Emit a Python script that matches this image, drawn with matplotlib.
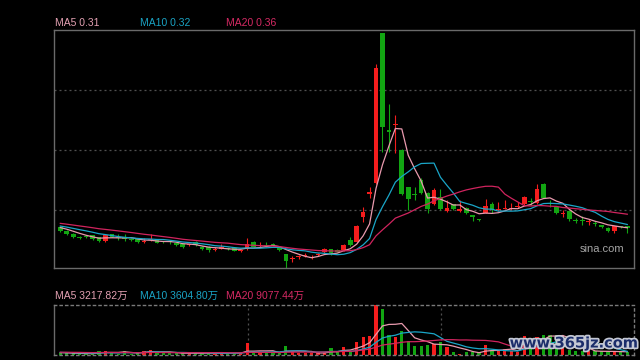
import matplotlib
matplotlib.use('Agg')
import matplotlib.pyplot as plt
import matplotlib.patheffects as pe
import numpy as np

# ---------------- data ----------------
opens = [
    0.311, 0.297, 0.285, 0.272, 0.274, 0.279, 0.271, 0.257, 0.284, 0.272,
    0.271, 0.264, 0.263, 0.251, 0.262, 0.263, 0.254, 0.252, 0.249, 0.243,
    0.240, 0.253, 0.233, 0.233, 0.219, 0.225, 0.228, 0.227, 0.216, 0.223,
    0.253, 0.235, 0.240, 0.241, 0.233, 0.204, 0.183, 0.192, 0.196, 0.190,
    0.199, 0.213, 0.224, 0.220, 0.220, 0.260, 0.253, 0.351, 0.444, 0.487,
    1.089, 0.700, 0.721, 0.620, 0.471, 0.444, 0.500, 0.447, 0.403, 0.431,
    0.377, 0.403, 0.377, 0.389, 0.360, 0.341, 0.369, 0.405, 0.379, 0.386,
    0.383, 0.391, 0.403, 0.414, 0.407, 0.484, 0.408, 0.391, 0.366, 0.377,
    0.338, 0.338, 0.332, 0.328, 0.320, 0.309, 0.297, 0.314, 0.315]

closes = [
    0.296, 0.284, 0.273, 0.270, 0.272, 0.265, 0.256, 0.279, 0.273, 0.270,
    0.264, 0.262, 0.252, 0.253, 0.264, 0.249, 0.252, 0.251, 0.241, 0.233,
    0.242, 0.240, 0.224, 0.219, 0.221, 0.233, 0.226, 0.217, 0.218, 0.244,
    0.233, 0.237, 0.238, 0.239, 0.220, 0.177, 0.185, 0.194, 0.198, 0.192,
    0.201, 0.224, 0.207, 0.214, 0.240, 0.240, 0.316, 0.373, 0.453, 0.949,
    0.713, 0.691, 0.724, 0.444, 0.423, 0.442, 0.447, 0.383, 0.460, 0.384,
    0.389, 0.383, 0.385, 0.367, 0.351, 0.339, 0.396, 0.379, 0.381, 0.388,
    0.385, 0.393, 0.431, 0.412, 0.464, 0.429, 0.406, 0.367, 0.368, 0.343,
    0.336, 0.336, 0.334, 0.326, 0.311, 0.296, 0.316, 0.312, 0.310]

highs = [
    0.316, 0.300, 0.288, 0.276, 0.280, 0.282, 0.274, 0.280, 0.286, 0.284,
    0.284, 0.268, 0.264, 0.268, 0.284, 0.264, 0.258, 0.256, 0.252, 0.244,
    0.244, 0.256, 0.236, 0.236, 0.233, 0.243, 0.232, 0.228, 0.222, 0.269,
    0.256, 0.251, 0.252, 0.249, 0.236, 0.206, 0.196, 0.200, 0.207, 0.200,
    0.208, 0.229, 0.226, 0.224, 0.244, 0.273, 0.320, 0.393, 0.473, 0.964,
    1.089, 0.804, 0.760, 0.624, 0.474, 0.473, 0.508, 0.453, 0.469, 0.463,
    0.420, 0.404, 0.420, 0.392, 0.362, 0.344, 0.423, 0.412, 0.413, 0.420,
    0.407, 0.412, 0.436, 0.428, 0.484, 0.489, 0.420, 0.392, 0.380, 0.380,
    0.348, 0.357, 0.344, 0.336, 0.322, 0.312, 0.318, 0.318, 0.318]

lows = [
    0.292, 0.279, 0.270, 0.266, 0.268, 0.262, 0.251, 0.251, 0.272, 0.260,
    0.257, 0.256, 0.250, 0.247, 0.258, 0.248, 0.248, 0.244, 0.238, 0.230,
    0.236, 0.238, 0.222, 0.213, 0.218, 0.224, 0.222, 0.216, 0.214, 0.222,
    0.232, 0.234, 0.232, 0.236, 0.218, 0.148, 0.172, 0.185, 0.194, 0.183,
    0.196, 0.207, 0.200, 0.212, 0.218, 0.236, 0.252, 0.331, 0.427, 0.484,
    0.613, 0.613, 0.609, 0.440, 0.380, 0.420, 0.444, 0.369, 0.400, 0.380,
    0.372, 0.381, 0.372, 0.364, 0.336, 0.337, 0.368, 0.369, 0.378, 0.384,
    0.382, 0.388, 0.400, 0.400, 0.406, 0.428, 0.392, 0.364, 0.352, 0.336,
    0.328, 0.320, 0.320, 0.316, 0.308, 0.294, 0.288, 0.308, 0.288]

# volume in 万
volumes = [
    1600, 1500, 1500, 1300, 1300, 1300, 4300, 4300, 1500, 1300,
    4300, 1300, 1500, 4300, 5300, 2600, 1500, 1500, 1500, 1500,
    2600, 1500, 1500, 1500, 1800, 2600, 1300, 1500, 2000, 11600,
    2600, 2600, 1500, 2600, 2600, 9300, 3300, 2000, 1500, 1500,
    1800, 3300, 7300, 2600, 7600, 3600, 12600, 17600, 19300, 49300,
    45300, 20000, 18300, 23300, 14300, 9300, 9300, 10000, 11000, 12600,
    7600, 2600, 1300, 3300, 2600, 1600, 10300, 4300, 4000, 6000,
    4300, 2600, 19000, 17000, 17600, 20000, 20000, 19500, 19500, 5000,
    3500, 4000, 3700, 3800, 3500, 3000, 3600, 2800, 3200]

# sessions before the visible window (needed for the moving averages)
pre_closes = [0.348, 0.344, 0.342, 0.340, 0.338, 0.336, 0.334, 0.332, 0.330, 0.328,
              0.326, 0.324, 0.322, 0.320, 0.318, 0.316, 0.314, 0.312, 0.310]
pre_volumes = [2500, 3000, 2000, 4000, 3000, 2500, 3500, 2000, 3000, 4000,
               3000, 2500, 3000, 2000, 3500, 2500, 3000, 2000, 2500]

ma_periods = [5, 10, 20]
price_labels = ['MA5 0.31', 'MA10 0.32', 'MA20 0.36']
volume_labels = ['MA5 3217.82万', 'MA10 3604.80万', 'MA20 9077.44万']
month_starts = [29.1, 59.1]

# ---------------- style ----------------
RED = '#f41d1d'
GREEN = '#12a512'
MA_COLORS = ['#e99aae', '#1aa6c8', '#d0245e']
LABEL_COLORS = ['#e3a0b2', '#1aa3c4', '#d62a64']
BORDER = '#6a6a6a'
GRID = '#505050'
FONT = ['Liberation Sans', 'Noto Sans CJK SC', 'DejaVu Sans']

W, H = 640, 360


def moving_avg(series, pre, n):
    full = np.concatenate([pre, series]).astype(float)
    out = np.convolve(full, np.ones(n) / n, mode='valid')
    return out[-len(series):]


o = np.array(opens)
c = np.array(closes)
hi = np.array(highs)
lo = np.array(lows)
v = np.array(volumes, dtype=float)
N = len(o)
x = np.arange(N)
up = c > o
colors = [RED if u else GREEN for u in up]

fig = plt.figure(figsize=(W / 100, H / 100), dpi=100, facecolor='black')
ax = fig.add_axes([54 / W, (H - 268) / H, 580 / W, 238 / H])
axv = fig.add_axes([54 / W, (H - 355) / H, 580 / W, 50 / H])

for a in (ax, axv):
    a.set_facecolor('black')
    a.set_xlim(-0.98, 89.04)
    a.tick_params(length=0, labelleft=False, labelbottom=False)
    a.set_xticks([])

# ---- main price panel ----
ax.set_ylim(0.148, 1.10)
ax.set_yticks([0.38, 0.62, 0.86])
ax.grid(axis='y', color=GRID, linestyle=(0, (1.6, 2.4)), linewidth=0.9)
for s in ax.spines.values():
    s.set_color(BORDER)
    s.set_linewidth(1.0)

ax.vlines(x, lo, hi, colors=colors, linewidth=0.8, zorder=2)
body = np.maximum(np.abs(c - o), 0.0035)
ax.bar(x, body, bottom=np.minimum(o, c), width=0.72, color=colors,
       linewidth=0, zorder=3)
for n, col in zip(ma_periods, MA_COLORS):
    ax.plot(x, moving_avg(c, pre_closes, n), color=col, linewidth=0.9, zorder=4)

# ---- volume panel ----
axv.set_ylim(0, v.max() * 1.005)
axv.bar(x, v, width=0.5, color=colors, linewidth=0, zorder=2)
for n, col in zip(ma_periods, MA_COLORS):
    axv.plot(x, moving_avg(v, pre_volumes, n), color=col, linewidth=0.9, zorder=3)
for m in month_starts:
    axv.axvline(m, color=GRID, linestyle=(0, (1.6, 2.4)), linewidth=0.9, zorder=1)
axv.spines['left'].set_color(BORDER)
axv.spines['left'].set_linewidth(1.0)
for side in ('top', 'right', 'bottom'):
    axv.spines[side].set_color('#7a7a7a')
    axv.spines[side].set_linestyle((0, (1.6, 2.4)))
    axv.spines[side].set_linewidth(1.0)

# ---- labels ----
label_x = [55, 140, 226]
for lx, txt, col in zip(label_x, price_labels, LABEL_COLORS):
    fig.text(lx / W, (H - 23.5) / H, txt, color=col, fontsize=7.5,
             family=FONT, ha='left', va='center')
for lx, txt, col in zip(label_x, volume_labels, LABEL_COLORS):
    fig.text(lx / W, (H - 296) / H, txt, color=col, fontsize=7.5,
             family=FONT, ha='left', va='center')

fig.text(602 / W, (H - 249) / H, 'sina.com', color='#a5a5a5', fontsize=8,
         family=FONT, ha='center', va='center')
fig.text(574 / W, (H - 343) / H, 'www.365jz.com', color='#1b2d6b', fontsize=10.5,
         fontweight='bold', family='DejaVu Sans', ha='center', va='center',
         path_effects=[pe.withStroke(linewidth=2.5, foreground='#c4c8d4')])

fig.savefig('out.png', dpi=100, facecolor='black')
